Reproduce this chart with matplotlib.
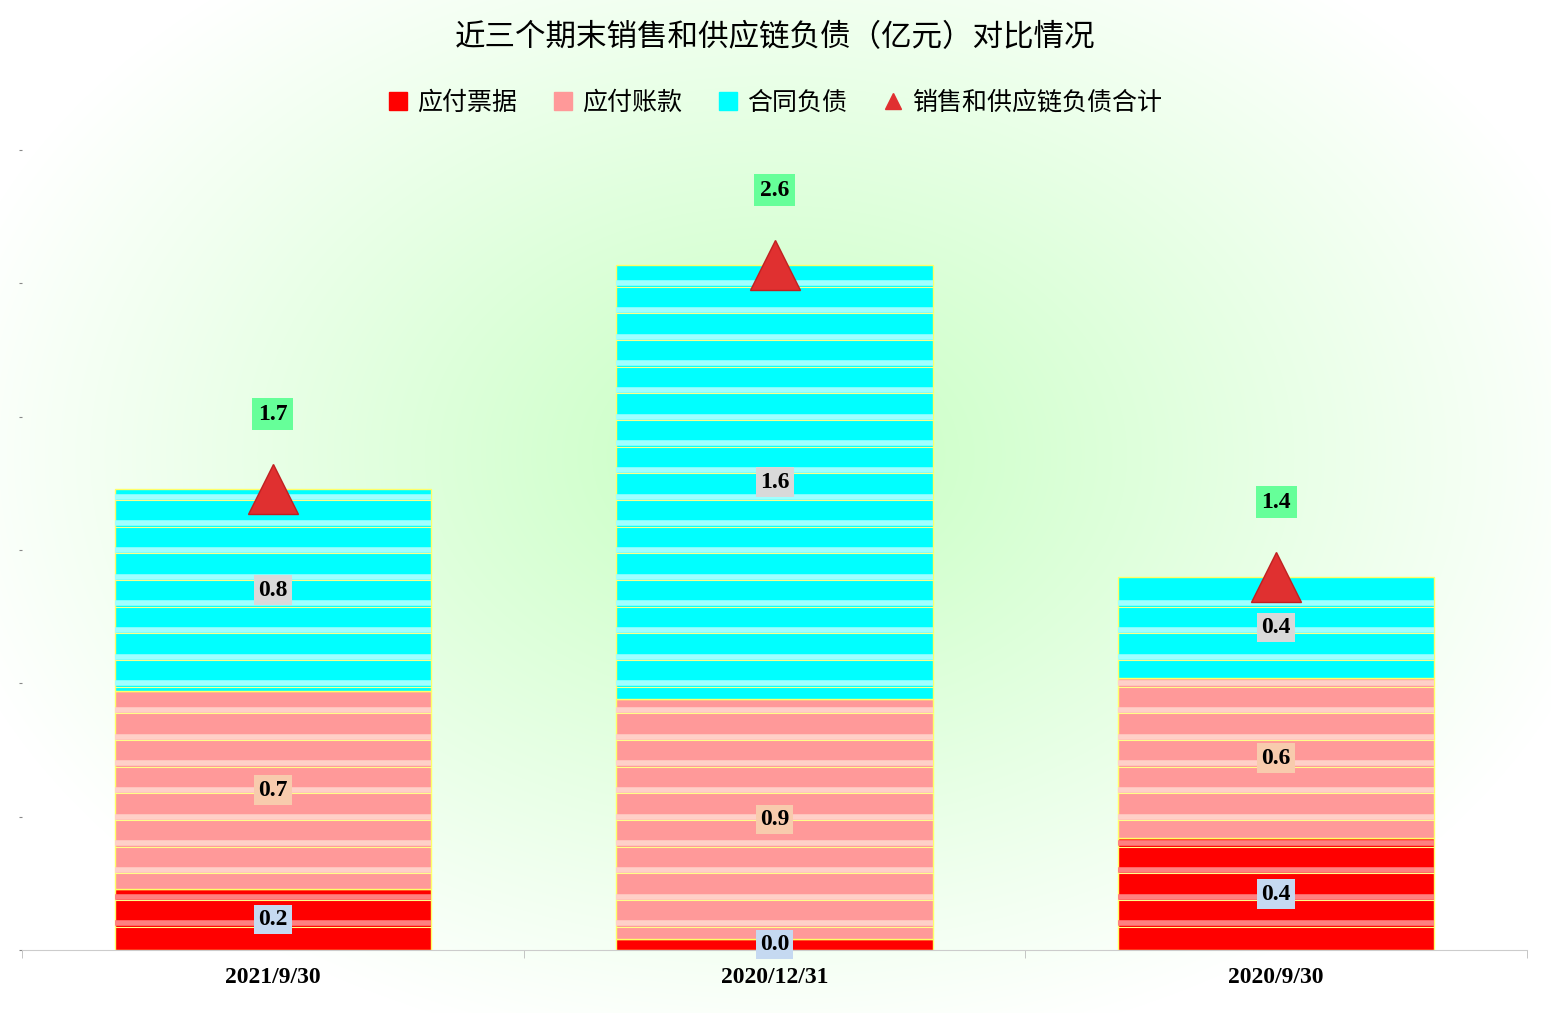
import numpy as np
import matplotlib
matplotlib.use("Agg")
import matplotlib.pyplot as plt
from matplotlib.lines import Line2D
from matplotlib.patches import Patch

plt.rcParams['font.family'] = ['Noto Sans CJK SC', 'DejaVu Sans']

categories = ['2021/9/30', '2020/12/31', '2020/9/30']
notes = [0.23, 0.04, 0.42]        # 应付票据
payables = [0.74, 0.90, 0.60]     # 应付账款
contract = [0.76, 1.63, 0.38]     # 合同负债
note_labels = ['0.2', '0.0', '0.4']
pay_labels = ['0.7', '0.9', '0.6']
con_labels = ['0.8', '1.6', '0.4']
total_labels = ['1.7', '2.6', '1.4']
series_names = ['应付票据', '应付账款', '合同负债', '销售和供应链负债合计']

W, H = 1551, 1013
fig = plt.figure(figsize=(W/100, H/100), dpi=100)

# radial background
bg = fig.add_axes([0, 0, 1, 1])
yy, xx = np.mgrid[0:H, 0:W]
r = np.sqrt(((xx - W/2)/(W*0.55))**2 + ((yy - H*0.45)/(H*0.6))**2)
r = np.clip(r, 0, 1)
c0 = np.array([0.78, 1.0, 0.76]); c1 = np.array([1.0, 1.0, 1.0])
img = c0[None, None, :]*(1-r[..., None]) + c1[None, None, :]*r[..., None]
bg.imshow(img, aspect='auto', extent=[0, 1, 0, 1])
bg.axis('off')

ax = fig.add_axes([22/W, 1-950/H, 1505/W, 800/H])
ax.set_facecolor('none')
x = np.arange(len(categories))
bw = 0.63
notes_a = np.array(notes); pay_a = np.array(payables); con_a = np.array(contract)
tot = notes_a + pay_a + con_a
ax.bar(x, notes_a, bw, color='#ff0000', edgecolor='#ffff66', linewidth=1, zorder=2)
ax.bar(x, pay_a, bw, bottom=notes_a, color='#ff9999', edgecolor='#ffff66', linewidth=1, zorder=2)
ax.bar(x, con_a, bw, bottom=notes_a+pay_a, color='#00ffff', edgecolor='#ffff66', linewidth=1, zorder=2)

# disk stripes
for i in range(len(x)):
    levels = np.arange(0.1, tot[i], 0.1)
    for lv in levels:
        if lv < notes_a[i]:
            col = '#ff8080'
        elif lv < notes_a[i] + pay_a[i]:
            col = '#ffd0c8'
        else:
            col = '#a0ffff'
        ax.hlines(lv, x[i]-bw/2, x[i]+bw/2, colors=col, linewidth=4, zorder=3)
        ax.hlines(lv-0.012, x[i]-bw/2, x[i]+bw/2, colors='#ffff88', linewidth=0.8, zorder=3)

ax.plot(x, tot, linestyle='none', marker='^', markersize=36, color='#e03030',
        markeredgecolor='#c02020', zorder=4)

fnt = dict(family='Liberation Serif', fontweight='bold', fontsize=17, ha='center', va='center', zorder=5)
for i in range(len(x)):
    ax.text(x[i], max(notes_a[i]/2, 0.02), note_labels[i], bbox=dict(fc='#c5d9f1', ec='none', pad=3), **fnt)
    ax.text(x[i], notes_a[i] + pay_a[i]/2, pay_labels[i], bbox=dict(fc='#f8cbad', ec='none', pad=3), **fnt)
    ax.text(x[i], notes_a[i] + pay_a[i] + con_a[i]/2, con_labels[i], bbox=dict(fc='#d9d9d9', ec='none', pad=3), **fnt)
    ax.text(x[i], tot[i] + 0.28, total_labels[i], bbox=dict(fc='#66ff99', ec='none', pad=4), **fnt)

ax.set_xlim(-0.5, 2.5)
ax.set_ylim(0, 3.0)
ax.set_yticks(np.arange(0, 3.01, 0.5))
ax.set_yticklabels([])
ax.tick_params(axis='y', length=2, color='#888888')
ax.set_xticks(x)
ax.set_xticklabels(categories, family='Liberation Serif', fontweight='bold', fontsize=17)
ax.set_xticks([-0.5, 0.5, 1.5, 2.5], minor=True)
ax.tick_params(axis='x', which='major', length=0, pad=12)
ax.tick_params(axis='x', which='minor', length=6, color='#bbbbbb')
for s in ['top', 'right', 'left']:
    ax.spines[s].set_visible(False)
ax.spines['bottom'].set_color('#cccccc')

fig.text(0.5, 1-38/H, '近三个期末销售和供应链负债（亿元）对比情况', ha='center', va='center', fontsize=22)
handles = [Patch(color='#ff0000'), Patch(color='#ff9999'), Patch(color='#00ffff'),
           Line2D([], [], linestyle='none', marker='^', color='#e03030', markersize=12)]
fig.legend(handles, series_names, loc='center', bbox_to_anchor=(0.5, 1-103/H), ncol=4,
           frameon=False, fontsize=18, handlelength=0.7, handletextpad=0.4, columnspacing=1.5)

fig.savefig('out.png', dpi=100)
